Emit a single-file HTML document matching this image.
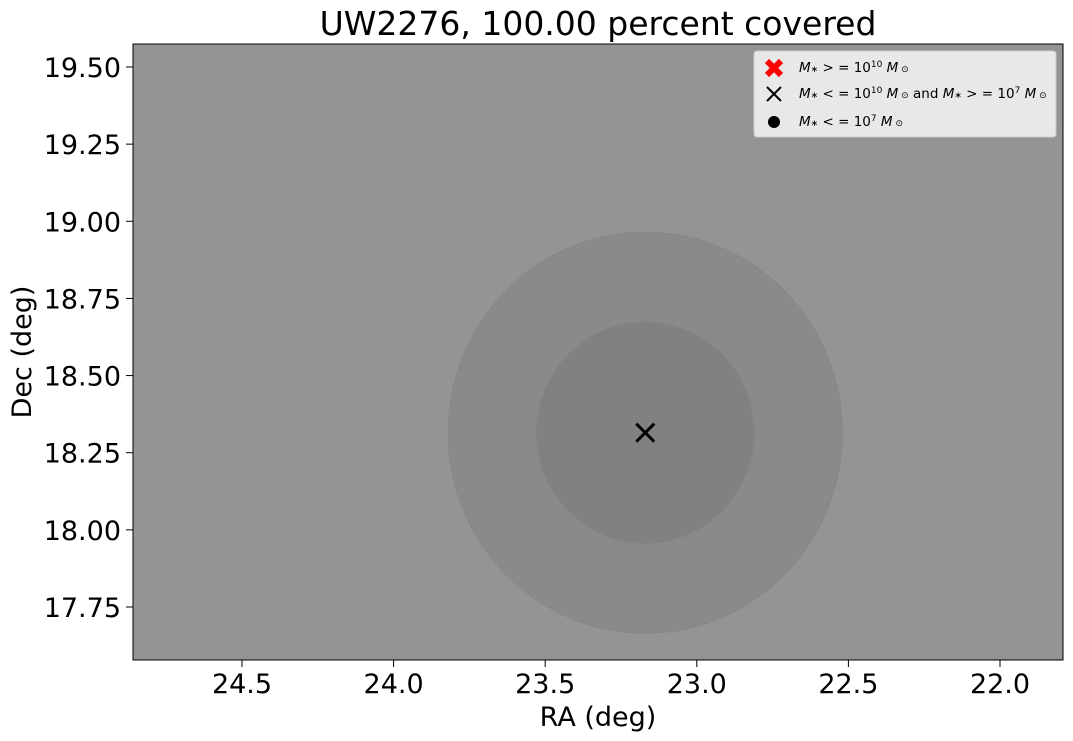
<!DOCTYPE html>
<html><head><meta charset="utf-8"><style>
body{margin:0;background:#fff;}
svg{display:block;font-family:"DejaVu Sans","Liberation Sans",sans-serif;}
</style></head><body>
<svg id="c" width="1073" height="741" viewBox="0 0 1073 741">
<text x="598" y="35" font-size="33" text-anchor="middle" fill="#000">UW2276, 100.00 percent covered</text>
<rect x="133" y="44" width="930" height="616" fill="#949494"/>
<g id="marks"></g>
<rect x="133" y="44" width="930" height="616" fill="none" stroke="#000" stroke-width="1"/>
<g id="axes"></g>
<text x="598" y="726" font-size="27" text-anchor="middle">RA (deg)</text>
<text transform="translate(31,352) rotate(-90)" font-size="27" text-anchor="middle">Dec (deg)</text>
<g>
<rect x="754" y="51" width="302" height="86" rx="3" fill="#e8e8e8" stroke="#cccccc"/>
<g>
<path d="M767,61 L781,75 M781,61 L767,75" stroke="#ff0000" stroke-width="6"/>
<text x="799" y="72" font-size="13.5"><tspan font-style="italic">M</tspan><tspan font-size="9">∗</tspan> &gt; = 10<tspan font-size="9" dy="-5">10</tspan><tspan dy="5" font-style="italic"> M</tspan><tspan font-size="9"> ⊙</tspan></text>
</g>
<g>
<path d="M767,87 L781,101 M781,87 L767,101" stroke="#000" stroke-width="2"/>
<text x="799" y="98" font-size="13.5"><tspan font-style="italic">M</tspan><tspan font-size="9">∗</tspan> &lt; = 10<tspan font-size="9" dy="-5">10</tspan><tspan dy="5" font-style="italic"> M</tspan><tspan font-size="9"> ⊙</tspan> and <tspan font-style="italic">M</tspan><tspan font-size="9">∗</tspan> &gt; = 10<tspan font-size="9" dy="-5">7</tspan><tspan dy="5" font-style="italic"> M</tspan><tspan font-size="9"> ⊙</tspan></text>
</g>
<g>
<circle cx="774" cy="122" r="6" fill="#000"/>
<text x="799" y="126" font-size="13.5"><tspan font-style="italic">M</tspan><tspan font-size="9">∗</tspan> &lt; = 10<tspan font-size="9" dy="-5">7</tspan><tspan dy="5" font-style="italic"> M</tspan><tspan font-size="9"> ⊙</tspan></text>
</g>
</g>
</svg>
<script>
const xTicks=[24.5,24.0,23.5,23.0,22.5,22.0];
const yTicks=[17.75,18.00,18.25,18.50,18.75,19.00,19.25,19.50];
const circleRA=[23.17,23.17];
const circleDec=[18.315,18.315];
const circleRadius=[0.65,0.36];
const circleFill=["#8a8a8a","#818181"];
const galaxyRA=[23.17];
const galaxyDec=[18.315];
const NS="http://www.w3.org/2000/svg";
function X(ra){return 242+(24.5-ra)*303.2;}
function Y(d){return 67+(19.5-d)*308.57;}
function mk(t,a,p){const e=document.createElementNS(NS,t);for(const k in a)e.setAttribute(k,a[k]);p.appendChild(e);return e;}
const marks=document.getElementById('marks'),axes=document.getElementById('axes');
circleRA.forEach((ra,i)=>{
 const e=mk('ellipse',{cx:X(ra),cy:Y(circleDec[i]),rx:circleRadius[i]*303.2,ry:circleRadius[i]*308.57,fill:circleFill[i],stroke:'#878787','stroke-width':1},marks);
 
 
});
galaxyRA.forEach((ra,i)=>{
 const x=X(ra),y=Y(galaxyDec[i]);
 const e=mk('path',{d:`M${x-9},${y-9}L${x+9},${y+9}M${x+9},${y-9}L${x-9},${y+9}`,stroke:'#000','stroke-width':3},marks);
 
 
});
xTicks.forEach(v=>{
 const x=X(v);
 mk('line',{x1:x,x2:x,y1:660,y2:667,stroke:'#000'},axes);
 const t=mk('text',{x:x,y:693,'font-size':27,'text-anchor':'middle'},axes);t.textContent=v.toFixed(1);
 
 
});
yTicks.forEach(v=>{
 const y=Y(v);
 mk('line',{x1:126,x2:133,y1:y,y2:y,stroke:'#000'},axes);
 const t=mk('text',{x:121,y:y+10,'font-size':27,'text-anchor':'end'},axes);t.textContent=v.toFixed(2);
 
 
});
</script>
</body></html>
